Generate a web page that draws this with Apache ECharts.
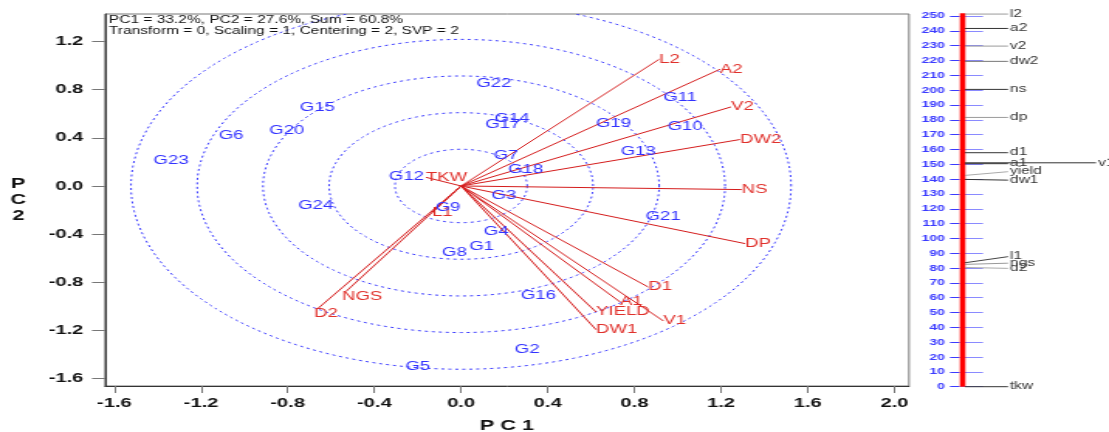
<!DOCTYPE html>
<html>
<head>
<meta charset="utf-8">
<script src="https://cdn.jsdelivr.net/npm/echarts@6/dist/echarts.min.js"></script>
<style>
html, body { margin: 0; padding: 0; overflow: hidden; background: #fff; width: 1109px; height: 432px; }
#wrap { width: 1109px; height: 432px; overflow: hidden; }
/* the reference picture is horizontally stretched; draw narrow, then stretch */
#chart { width: 716px; height: 432px; transform: scaleX(1.5489); transform-origin: 0 0; }
</style>
</head>
<body>
<div id="wrap"><div id="chart"></div></div>
<script>
// ---------------- data ----------------
const genoNames = ['G1','G2','G3','G4','G5','G6','G7','G8','G9','G10','G11','G12',
                   'G13','G14','G15','G16','G17','G18','G19','G20','G21','G22','G23','G24'];
const genoPC1 = [0.095, 0.305, 0.198, 0.162, -0.200, -1.061, 0.208, -0.031, -0.060, 1.034, 1.011, -0.252,
                 0.817, 0.235, -0.663, 0.357, 0.192, 0.298, 0.703, -0.804, 0.932, 0.151, -1.338, -0.671];
const genoPC2 = [-0.501, -1.360, -0.080, -0.382, -1.499, 0.421, 0.249, -0.557, -0.180, 0.490, 0.735, 0.075,
                 0.283, 0.560, 0.652, -0.911, 0.513, 0.136, 0.519, 0.457, -0.252, 0.851, 0.208, -0.166];

const traitNames = ['L2','A2','V2','DW2','NS','DP','D1','A1','V1','YIELD','DW1','TKW','L1','NGS','D2'];
const traitPC1 = [0.914, 1.195, 1.246, 1.287, 1.295, 1.311, 0.864, 0.734, 0.934, 0.623, 0.623, -0.162, -0.134, -0.531, -0.660];
const traitPC2 = [1.053, 0.970, 0.657, 0.386, -0.030, -0.479, -0.840, -0.964, -1.122, -1.047, -1.194, 0.072, -0.219, -0.876, -1.017];

const xTicks = [-1.6, -1.2, -0.8, -0.4, 0.0, 0.4, 0.8, 1.2, 1.6, 2.0];
const yTicks = [-1.6, -1.2, -0.8, -0.4, 0.0, 0.4, 0.8, 1.2];
const circleRadii = [0.305, 0.609, 0.914, 1.218, 1.523];

const headerLines = ['PC1 = 33.2%, PC2 = 27.6%, Sum = 60.8%',
                     'Transform = 0, Scaling = 1, Centering = 2, SVP = 2'];

// right-hand ranking scale
const rankNames  = ['l2','a2','v2','dw2','ns','dp','d1','a1','v1','yield','dw1','l1','ngs','d2','tkw'];
const rankValues = [251.3, 241.6, 229.7, 219.4, 200.5, 181.6, 157.8, 150.4, 151.0, 142.5, 139.8, 83.6, 82.5, 80.4, 0];
const rankLabelAt = [251.3, 241.6, 229.7, 219.4, 200.5, 181.6, 157.8, 150.4, 151.0, 145.0, 139.3, 87.7, 83.3, 79.8, 0];

// ---------------- layout / style ----------------
const S = 1109 / 716;              // horizontal stretch
const px = v => v / S;             // reference x-pixels -> drawing pixels
const traitLabelShift = { NGS: [-4, 5], D2: [-4, 5] };
const rankLineColors = ['#9a9a9a','#333','#9a9a9a','#777','#333','#9a9a9a','#333','#333','#333','#aaaaaa','#333','#444','#999','#aaaaaa','#333'];
const rankLabelX = { v1: 1098 };
const FONT = '"Liberation Sans", Arial, sans-serif';

const chart = echarts.init(document.getElementById('chart'));

const option = {
  animation: false,
  title: {
    text: headerLines.join('\n'),
    left: px(109), top: 14.5, padding: 0,
    textStyle: { fontSize: 10, fontWeight: 'normal', color: '#111', lineHeight: 11, fontFamily: FONT }
  },
  grid: [
    { left: px(105), top: 14, width: px(909 - 105), height: 372, show: true, borderColor: '#777', borderWidth: 1,
      containLabel: false, outerBoundsMode: 'none' },
    { left: px(959), top: 16, width: px(24), height: 370.7, containLabel: false, outerBoundsMode: 'none' }
  ],
  xAxis: [
    {
      type: 'value', gridIndex: 0, min: -1.643, max: 2.067,
      axisLine: { show: true, onZero: false, lineStyle: { color: '#333' } },
      axisTick: { show: true, customValues: xTicks, length: 7, lineStyle: { color: '#777' } },
      axisLabel: { customValues: xTicks, formatter: v => v.toFixed(1), margin: 11,
                   color: '#111', fontWeight: 'bold', fontSize: 13, fontFamily: FONT },
      splitLine: { show: false },
      name: 'P C 1', nameLocation: 'middle', nameGap: 33,
      nameTextStyle: { fontWeight: 'bold', fontSize: 14, color: '#111', fontFamily: FONT }
    },
    { type: 'value', gridIndex: 1, min: 0, max: 1, show: false }
  ],
  yAxis: [
    {
      type: 'value', gridIndex: 0, min: -1.662, max: 1.429,
      axisLine: { show: true, onZero: false, lineStyle: { color: '#333' } },
      axisTick: { show: true, customValues: yTicks, length: px(13), lineStyle: { color: '#777' } },
      axisLabel: { customValues: yTicks, formatter: v => v.toFixed(1), margin: 14,
                   color: '#111', fontWeight: 'bold', fontSize: 13, fontFamily: FONT },
      splitLine: { show: false },
      name: 'P\nC\n2', nameLocation: 'middle', nameGap: 56, nameRotate: 0,
      nameTextStyle: { fontWeight: 'bold', fontSize: 14, color: '#111', fontFamily: FONT,
                       align: 'center', verticalAlign: 'middle', lineHeight: 16, padding: [0, 0, 8, 0] }
    },
    {
      type: 'value', gridIndex: 1, min: 0, max: 250, interval: 10,
      axisLine: { show: false },
      axisTick: { show: true, length: px(9), lineStyle: { color: '#3b3bff' } },
      axisLabel: { margin: px(14), color: '#3b3bff', fontWeight: 'bold', fontSize: 9, fontFamily: FONT },
      splitLine: { show: true, lineStyle: { color: '#8a8aff' } }
    }
  ],
  series: [
    // concentric reference circles
    {
      type: 'custom', xAxisIndex: 0, yAxisIndex: 0, clip: true, silent: true, z: 1,
      data: circleRadii.map(r => [r, 0]),
      renderItem(params, api) {
        const r = api.value(0);
        const pts = [];
        for (let a = 0; a <= 360; a += 2) {
          const t = a * Math.PI / 180;
          pts.push(api.coord([r * Math.cos(t), r * Math.sin(t)]));
        }
        return { type: 'polyline', shape: { points: pts },
                 style: { stroke: '#3b3bff', lineWidth: 1, lineDash: [2, 2.5], fill: null } };
      }
    },
    // trait vectors
    {
      type: 'custom', xAxisIndex: 0, yAxisIndex: 0, clip: false, silent: true, z: 3,
      data: traitNames.map((n, i) => [traitPC1[i], traitPC2[i]]),
      renderItem(params, api) {
        const o = api.coord([0, 0]);
        const p = api.coord([api.value(0), api.value(1)]);
        const name = traitNames[params.dataIndex];
        const sh = traitLabelShift[name] || [0, 0];
        return { type: 'group', children: [
          { type: 'line', shape: { x1: o[0], y1: o[1], x2: p[0], y2: p[1] },
            style: { stroke: '#d41c1c', lineWidth: 1 } },
          { type: 'text', x: p[0] + px(sh[0]), y: p[1] + sh[1],
            style: { text: name, fill: '#e0302b', font: '12px ' + FONT, align: 'left', verticalAlign: 'middle' } }
        ] };
      }
    },
    // genotype labels
    {
      type: 'custom', xAxisIndex: 0, yAxisIndex: 0, clip: false, silent: true, z: 4,
      data: genoNames.map((n, i) => [genoPC1[i], genoPC2[i]]),
      renderItem(params, api) {
        const p = api.coord([api.value(0), api.value(1)]);
        return { type: 'text', x: p[0], y: p[1],
                 style: { text: genoNames[params.dataIndex], fill: '#3232ff', font: '12px ' + FONT,
                          align: 'center', verticalAlign: 'middle' } };
      }
    },
    // red scale bar
    {
      type: 'custom', xAxisIndex: 1, yAxisIndex: 1, clip: false, silent: true, z: 5,
      data: [[0.15, Math.max(...rankValues) + 0.5]],
      renderItem(params, api) {
        const a = api.coord([api.value(0), 0]);
        const b = api.coord([api.value(0), api.value(1)]);
        return { type: 'line', shape: { x1: a[0], y1: a[1], x2: b[0], y2: b[1] },
                 style: { stroke: '#ff0000', lineWidth: px(5.5) } };
      }
    },
    // leader lines & labels of the ranking scale
    {
      type: 'custom', xAxisIndex: 1, yAxisIndex: 1, clip: false, silent: true, z: 6,
      data: rankNames.map((n, i) => [rankValues[i], rankLabelAt[i]]),
      renderItem(params, api) {
        const name = rankNames[params.dataIndex];
        const y1 = api.coord([0, api.value(0)])[1];
        const y2 = api.coord([0, api.value(1)])[1];
        const x1 = px(965);
        const xl = px(rankLabelX[name] || 1010);
        return { type: 'group', children: [
          { type: 'line', shape: { x1: x1, y1: y1, x2: xl - px(2), y2: y2 },
            style: { stroke: rankLineColors[params.dataIndex], lineWidth: 1 } },
          { type: 'text', x: xl, y: y2,
            style: { text: name, fill: '#333', font: '10px ' + FONT, align: 'left', verticalAlign: 'middle' } }
        ] };
      }
    }
  ]
};
chart.setOption(option);
</script>
</body>
</html>
